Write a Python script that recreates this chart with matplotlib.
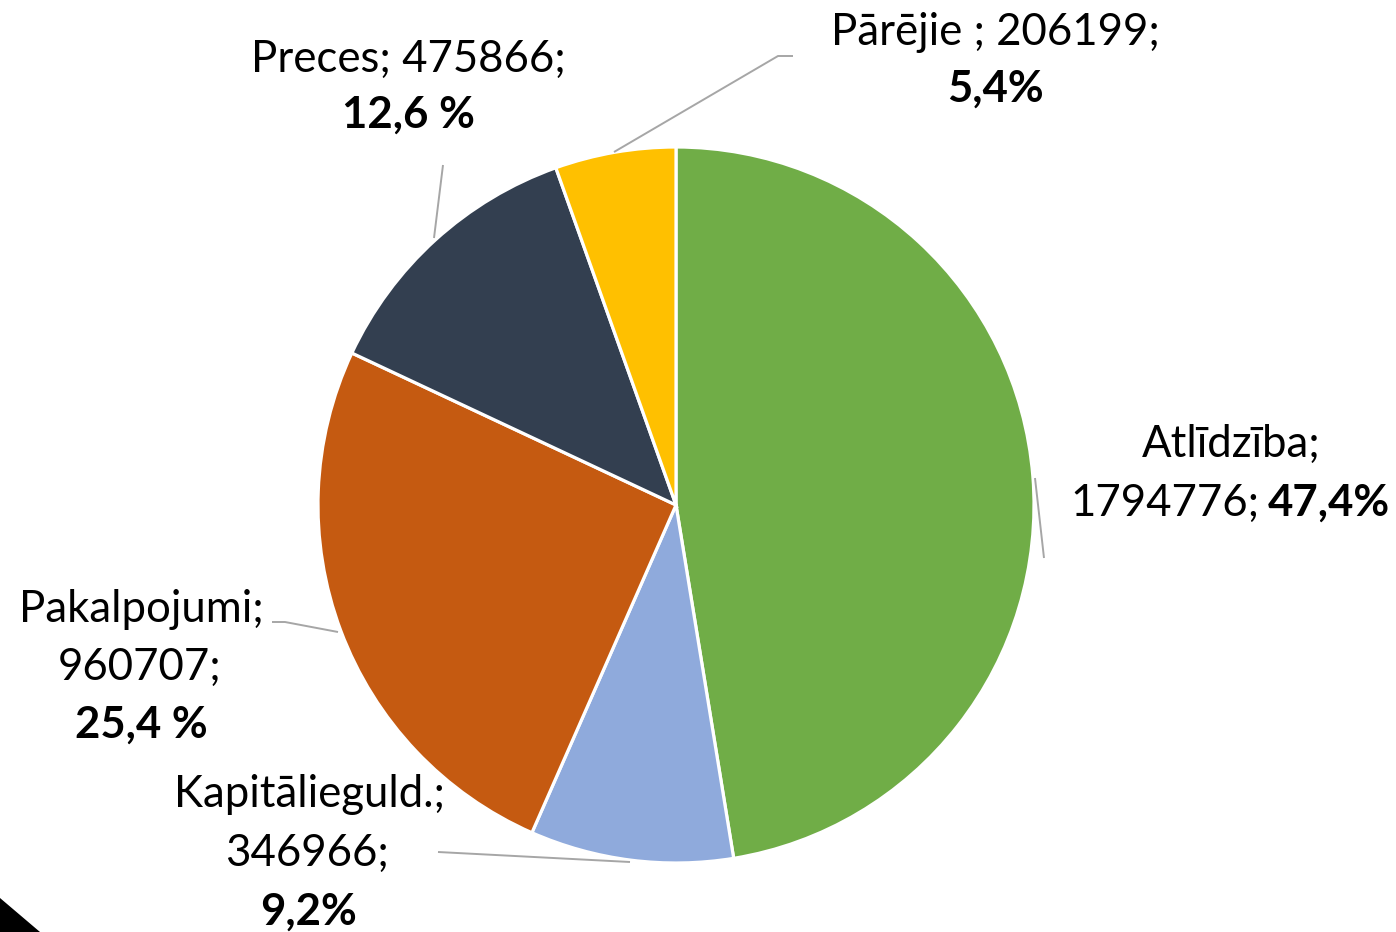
import matplotlib.pyplot as plt
from matplotlib.patches import Polygon

plt.rcParams['font.family'] = ['Lato', 'DejaVu Sans']

# data
categories = ['Atlīdzība', 'Kapitālieguld.', 'Pakalpojumi', 'Preces', 'Pārējie']
values = [1794776, 346966, 960707, 475866, 206199]
pct_labels = ['47,4%', '9,2%', '25,4 %', '12,6 %', '5,4%']
colors = ['#70AD47', '#8FAADC', '#C55A11', '#333F50', '#FFC000']

W, H = 1396, 932
fig = plt.figure(figsize=(W / 100, H / 100), dpi=100)
ax = fig.add_axes([0, 0, 1, 1])
ax.set_aspect('equal')


def Y(py):
    # pixel rows counted from the top
    return H - py


ax.pie(values, colors=colors, startangle=90, counterclock=False,
       center=(676, Y(505)), radius=358, frame=True,
       wedgeprops=dict(edgecolor='white', linewidth=2.3))
ax.set_xlim(0, W)
ax.set_ylim(0, H)
ax.set_axis_off()

fs = 31.5
line_col = '#A6A6A6'

# leader lines
leaders = [
    [(1035, 478), (1044, 558)],
    [(438, 852), (630, 862)],
    [(272, 622), (285, 622), (338, 632)],
    [(443, 165), (434, 238)],
    [(793, 56), (778, 56), (614, 152)],
]
for pts in leaders:
    ax.plot([p[0] for p in pts], [Y(p[1]) for p in pts], color=line_col,
            lw=1.4, solid_capstyle='butt')


def txt(x, y, s, bold=False, ha='center'):
    ax.text(x, Y(y), s, fontsize=fs, ha=ha, va='baseline',
            fontweight='bold' if bold else 'normal', color='black')


# Atlīdzība
txt(1231, 457, categories[0] + ';')
txt(1259, 516, f'{values[0]};', ha='right')
txt(1268, 516, pct_labels[0], bold=True, ha='left')
# Kapitālieguld.
txt(309, 807, categories[1] + ';')
txt(307, 866, f'{values[1]};')
txt(309, 925, pct_labels[1], bold=True)
# Pakalpojumi
txt(141, 622, categories[2] + ';')
txt(140, 680, f'{values[2]};')
txt(141, 738, pct_labels[2], bold=True)
# Preces
txt(408, 72, f'{categories[3]}; {values[3]};')
txt(408, 128, pct_labels[3], bold=True)
# Pārējie
txt(995, 45, f'{categories[4]} ; {values[4]};')
txt(995, 102, pct_labels[4], bold=True)

# black corner mark
ax.add_patch(Polygon([(0, Y(898)), (0, Y(932)), (40, Y(932))],
                     closed=True, color='black', lw=0, clip_on=False))

fig.savefig('out.png', dpi=100, facecolor='white')
